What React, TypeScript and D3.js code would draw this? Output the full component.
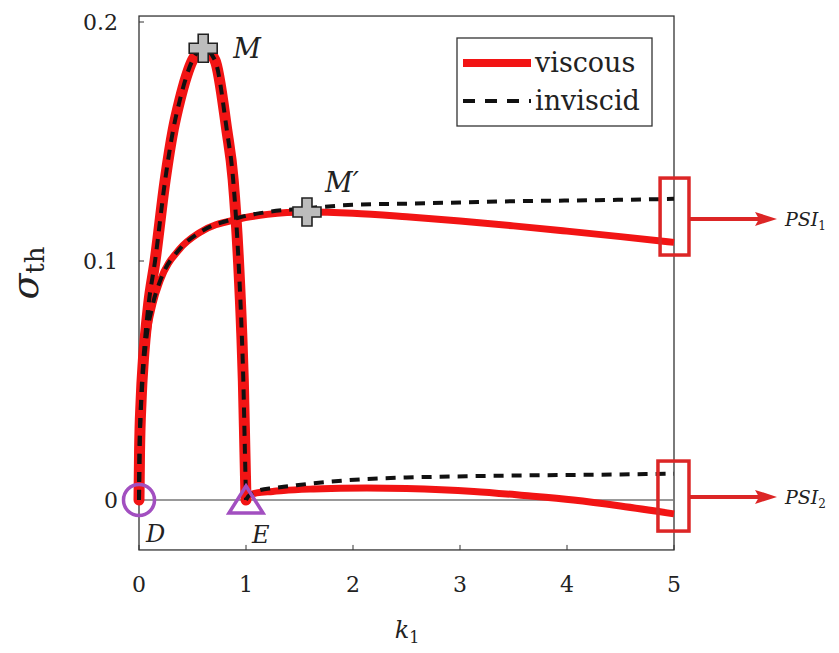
import React from "react";
import * as d3 from "d3";

// Growth-rate branches: wavenumber k1 and threshold growth rate sigma_th
const kHill = [0, 0.005, 0.02, 0.04, 0.056, 0.09, 0.15, 0.245, 0.32, 0.38, 0.5, 0.6, 0.71, 0.82, 0.88, 0.93, 0.96, 0.975, 0.99, 1.0];
const sigmaHill = [0, 0.02, 0.042, 0.058, 0.067, 0.082, 0.1, 0.134, 0.155, 0.167, 0.184, 0.189, 0.184, 0.155, 0.134, 0.1, 0.07, 0.05, 0.02, 0];

const kUpper = [0, 0.005, 0.015, 0.03, 0.06, 0.13, 0.2, 0.38, 0.57, 0.92, 1.2, 1.55, 2, 2.5, 3, 3.5, 4, 4.5, 5];
const sigmaUpperInviscid = [0, 0.02, 0.035, 0.048, 0.064, 0.082, 0.092, 0.105, 0.112, 0.118, 0.1205, 0.122, 0.1235, 0.124, 0.1245, 0.125, 0.1253, 0.1256, 0.126];
const sigmaUpperViscous = [0, 0.02, 0.035, 0.048, 0.064, 0.082, 0.092, 0.105, 0.112, 0.1175, 0.1195, 0.1205, 0.12, 0.1185, 0.1167, 0.1147, 0.1125, 0.1102, 0.1078];

const kLower = [1, 1.02, 1.05, 1.1, 1.25, 1.35, 1.63, 2.13, 2.5, 3.13, 3.6, 4.06, 4.5, 5];
const sigmaLowerInviscid = [0, 0.0015, 0.0025, 0.0037, 0.005, 0.0055, 0.007, 0.0088, 0.0094, 0.01, 0.0103, 0.0105, 0.0107, 0.011];
const sigmaLowerViscous = [0, 0.0015, 0.0023, 0.003, 0.0036, 0.004, 0.0046, 0.005, 0.0048, 0.0036, 0.0019, 0, -0.0025, -0.0058];

const xTicks = [0, 1, 2, 3, 4, 5];
const yTicks = [0, 0.1, 0.2];
const yTickLabels = ["0", "0.1", "0.2"];

// Annotated points
const pointM = { k: 0.6, sigma: 0.189, label: "M" };
const pointMp = { k: 1.57, sigma: 0.1205, label: "M\u2032" };
const pointD = { k: 0, sigma: 0, label: "D" };
const pointE = { k: 1, sigma: 0, label: "E" };

// Boxes marking the two branches at the right edge
const psiBoxes = [
  { sub: "1", kMin: 4.87, kMax: 5.14, sMin: 0.1025, sMax: 0.1347, sArrow: 0.1176 },
  { sub: "2", kMin: 4.85, kMax: 5.14, sMin: -0.013, sMax: 0.0163, sArrow: 0.0013 },
];

const W = 839;
const H = 653;
const x = d3.scaleLinear().domain([0, 5]).range([139, 674]);
const y = d3.scaleLinear().domain([0, 0.2]).range([500, 22]);
const yMin = -0.0209;
const yMax = 0.2025;

const RED = "#f21414";
const BOX_RED = "#dc2626";
const PURPLE = "#a24fc0";
const SERIF = "'DejaVu Serif', 'Liberation Serif', serif";

const line = d3
  .line<[number, number]>()
  .x((d) => x(d[0]))
  .y((d) => y(d[1]))
  .curve(d3.curveMonotoneX);

const pts = (ks: number[], ss: number[]) => ks.map((k, i) => [k, ss[i]] as [number, number]);

function plusPath(cx: number, cy: number, size: number, arm: number) {
  const h = size / 2;
  const a = arm / 2;
  return `M${cx - a},${cy - h}H${cx + a}V${cy - a}H${cx + h}V${cy + a}H${cx + a}V${cy + h}H${cx - a}V${cy + a}H${cx - h}V${cy - a}H${cx - a}Z`;
}

export default function App() {
  const x0 = x(0);
  const x1 = x(5);
  const yTop = y(yMax);
  const yBot = y(yMin);
  const dash = "10 8";

  return (
    <svg
      width={W}
      height={H}
      viewBox={`0 0 ${W} ${H}`}
      style={{ position: "absolute", left: 0, top: 0, background: "#fff" }}
    >
      {/* frame */}
      <rect x={x0} y={yTop} width={x1 - x0} height={yBot - yTop} fill="none" stroke="#333" strokeWidth={1.3} />
      {/* zero line */}
      <line x1={x0} x2={x1} y1={y(0)} y2={y(0)} stroke="#777" strokeWidth={1.6} />

      {/* ticks */}
      {xTicks.map((t) => (
        <g key={`xt${t}`}>
          <line x1={x(t)} x2={x(t)} y1={yBot} y2={yBot - 5} stroke="#333" strokeWidth={1} />
          <text x={x(t)} y={592} textAnchor="middle" fontFamily={SERIF} fontSize={22} fill="#222">
            {t}
          </text>
        </g>
      ))}
      {yTicks.map((t, i) => (
        <g key={`yt${t}`}>
          <line x1={x0} x2={x0 + 5} y1={y(t)} y2={y(t)} stroke="#333" strokeWidth={1} />
          <text x={118} y={y(t) + 8} textAnchor="end" fontFamily={SERIF} fontSize={22} fill="#222">
            {yTickLabels[i]}
          </text>
        </g>
      ))}

      {/* axis titles */}
      <text x={407} y={638} textAnchor="middle" fontFamily={SERIF} fill="#222">
        <tspan fontStyle="italic" fontSize={24}>k</tspan>
        <tspan fontSize={16} dy={5}>1</tspan>
      </text>
      <text
        transform={`translate(38,273) rotate(-90)`}
        textAnchor="middle"
        fontFamily={SERIF}
        fill="#222"
      >
        <tspan fontStyle="italic" fontSize={38}>σ</tspan>
        <tspan fontSize={26} dy={6}>th</tspan>
      </text>

      {/* viscous curves */}
      <g fill="none" stroke={RED} strokeLinejoin="round">
        <path d={line(pts(kHill, sigmaHill)) ?? ""} strokeWidth={11} strokeLinecap="round" />
        <path d={line(pts(kUpper, sigmaUpperViscous)) ?? ""} strokeWidth={7} strokeLinecap="butt" />
        <path d={line(pts(kLower, sigmaLowerViscous)) ?? ""} strokeWidth={7} strokeLinecap="butt" />
      </g>
      {/* inviscid curves */}
      <g fill="none" stroke="#111" strokeWidth={4} strokeDasharray={dash}>
        <path d={line(pts(kHill, sigmaHill)) ?? ""} />
        <path d={line(pts(kUpper, sigmaUpperInviscid)) ?? ""} />
        <path d={line(pts(kLower, sigmaLowerInviscid)) ?? ""} />
      </g>

      {/* markers */}
      <circle cx={x(pointD.k)} cy={y(pointD.sigma)} r={15.5} fill="none" stroke={PURPLE} strokeWidth={3.5} />
      <path
        d={`M${x(pointE.k)},${y(pointE.sigma) - 14}L${x(pointE.k) + 17},${y(pointE.sigma) + 13}L${x(pointE.k) - 17},${y(pointE.sigma) + 13}Z`}
        fill="none"
        stroke={PURPLE}
        strokeWidth={3.5}
        strokeLinejoin="miter"
      />
      {[pointM, pointMp].map((p) => (
        <path key={p.label} d={plusPath(x(p.k), y(p.sigma), 28, 10)} fill="#bcbcbc" stroke="#222" strokeWidth={1.6} />
      ))}

      {/* point labels */}
      <text x={x(pointM.k) + 30} y={y(pointM.sigma) + 10} fontFamily={SERIF} fontStyle="italic" fontSize={27} fill="#222">
        {pointM.label}
      </text>
      <text x={x(pointMp.k) + 18} y={y(pointMp.sigma) - 20} fontFamily={SERIF} fontStyle="italic" fontSize={27} fill="#222">
        {pointMp.label}
      </text>
      <text x={x(pointD.k) + 7} y={y(pointD.sigma) + 42} fontFamily={SERIF} fontStyle="italic" fontSize={24} fill="#222">
        {pointD.label}
      </text>
      <text x={x(pointE.k) + 6} y={y(pointE.sigma) + 43} fontFamily={SERIF} fontStyle="italic" fontSize={24} fill="#222">
        {pointE.label}
      </text>

      {/* legend */}
      <g>
        <rect x={457} y={38} width={195} height={88} fill="#fff" stroke="#333" strokeWidth={1.3} />
        <line x1={463} x2={531} y1={63} y2={63} stroke={RED} strokeWidth={8} />
        <text x={535} y={72} fontFamily={SERIF} fontSize={27} fill="#222">viscous</text>
        <line x1={463} x2={531} y1={101} y2={101} stroke="#111" strokeWidth={4} strokeDasharray="12 10" />
        <text x={535} y={110} fontFamily={SERIF} fontSize={27} fill="#222">inviscid</text>
      </g>

      {/* PSI boxes and arrows */}
      {psiBoxes.map((b) => {
        const bx0 = x(b.kMin);
        const bx1 = x(b.kMax);
        const by0 = y(b.sMax);
        const by1 = y(b.sMin);
        const ay = y(b.sArrow);
        const tip = 777;
        return (
          <g key={b.sub}>
            <rect x={bx0} y={by0} width={bx1 - bx0} height={by1 - by0} fill="none" stroke={BOX_RED} strokeWidth={3.5} />
            <line x1={bx1} x2={tip - 14} y1={ay} y2={ay} stroke={BOX_RED} strokeWidth={4} />
            <path d={`M${tip},${ay}L${tip - 22},${ay - 7}L${tip - 18},${ay}L${tip - 22},${ay + 7}Z`} fill={BOX_RED} />
            <text x={785} y={ay + 7} fontFamily={SERIF} fill="#222">
              <tspan fontStyle="italic" fontSize={19}>PSI</tspan>
              <tspan fontSize={12} dy={4}>{b.sub}</tspan>
            </text>
          </g>
        );
      })}
    </svg>
  );
}
